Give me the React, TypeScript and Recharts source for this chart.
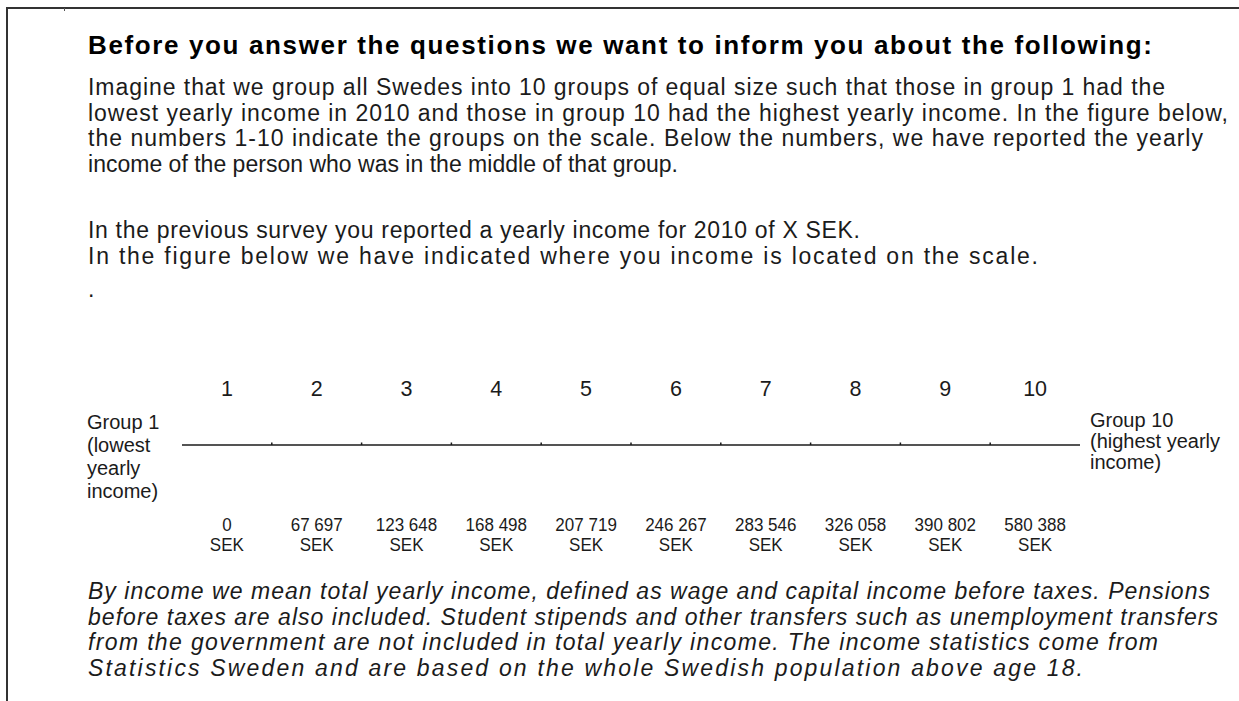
import { ComposedChart, XAxis, YAxis, ReferenceLine, Scatter } from 'recharts';

const groups = [1, 2, 3, 4, 5, 6, 7, 8, 9, 10];
const incomes = ['0', '67 697', '123 648', '168 498', '207 719', '246 267', '283 546', '326 058', '390 802', '580 388'];
const dividers = [1.5, 2.5, 3.5, 4.5, 5.5, 6.5, 7.5, 8.5, 9.5];

const titleText = 'Before you answer the questions we want to inform you about the following:';
const introLines = [
  'Imagine that we group all Swedes into 10 groups of equal size such that those in group 1 had the',
  'lowest yearly income in 2010 and those in group 10 had the highest yearly income. In the figure below,',
  'the numbers 1-10 indicate the groups on the scale. Below the numbers, we have reported the yearly',
  'income of the person who was in the middle of that group.',
];
const surveyLines = [
  'In the previous survey you reported a yearly income for 2010 of X SEK.',
  'In the figure below we have indicated where you income is located on the scale.',
];
const noteLines = [
  'By income we mean total yearly income, defined as wage and capital income before taxes. Pensions',
  'before taxes are also included. Student stipends and other transfers such as unemployment transfers',
  'from the government are not included in total yearly income. The income statistics come from',
  'Statistics Sweden and are based on the whole Swedish population above age 18.',
];
const lowLabel = ['Group 1', '(lowest', 'yearly', 'income)'];
const highLabel = ['Group 10', '(highest yearly', 'income)'];

// printed width of each text line on the page (px)
const introWidths = [1077, 1140, 1115, 590];
const surveyWidths = [772, 950];
const noteWidths = [1122, 1130, 1070, 995];

const FONT = "'Liberation Sans', Arial, sans-serif";
const INK = '#1b1b1b';

const data = groups.map((g, i) => ({ group: g, income: incomes[i] }));
const dividerData = dividers.map((d) => ({ group: d, level: 1 }));

function GroupTick(props: any) {
  const { x, y, payload } = props;
  return (
    <text x={x} y={y + 1} textAnchor="middle" fontSize={21.5} fontFamily={FONT} fill={INK}>
      {payload.value}
    </text>
  );
}

function IncomeTick(props: any) {
  const { x, y, payload } = props;
  const label = incomes[groups.indexOf(payload.value)];
  return (
    <g transform={`translate(${x},${y}) scale(0.92,1)`} fontSize={18.5} fontFamily={FONT} fill={INK} textAnchor="middle">
      <text x={0} y={36}>{label}</text>
      <text x={0} y={56}>SEK</text>
    </g>
  );
}

function DividerMark(props: any) {
  const { cx, cy } = props;
  return <line x1={cx} x2={cx} y1={cy - 2.5} y2={cy} stroke={INK} strokeWidth={1.5} />;
}

function TextBlock({ lines, widths, baseline, step = 25.5, italic }: any) {
  return (
    <g fontStyle={italic ? 'italic' : 'normal'}>
      {lines.map((t: string, i: number) => (
        <text key={i} x={88} y={baseline + i * step} textLength={widths[i]} lengthAdjust="spacing">
          {t}
        </text>
      ))}
    </g>
  );
}

export default function App() {
  return (
    <div
      style={{
        position: 'fixed',
        left: 0,
        top: 0,
        width: 1239,
        height: 701,
        background: '#fff',
        overflow: 'hidden',
      }}
    >
      <svg width={1239} height={701} style={{ position: 'absolute', left: 0, top: 0 }} fontFamily={FONT} fontSize={23} fill={INK}>
        {/* page frame */}
        <rect x={6} y={7} width={1233} height={2} fill="#333" />
        <rect x={6} y={7} width={2} height={694} fill="#333" />
        <rect x={64} y={8} width={1} height={3} fill="#555" />

        <text x={88} y={54} fontWeight="bold" fontSize={26} fill="#000" textLength={1064} lengthAdjust="spacing">
          {titleText}
        </text>
        <TextBlock lines={introLines} widths={introWidths} baseline={95} />
        <TextBlock lines={surveyLines} widths={surveyWidths} baseline={238} />
        <text x={88} y={297}>.</text>
        <TextBlock lines={noteLines} widths={noteWidths} baseline={599} italic />

        <g fontSize={20}>
          {lowLabel.map((t, i) => (
            <text key={i} x={87} y={429 + i * 23}>{t}</text>
          ))}
          {highLabel.map((t, i) => (
            <text key={i} x={1090} y={427 + i * 21}>{t}</text>
          ))}
        </g>
      </svg>

      <div style={{ position: 'absolute', left: 0, top: 360 }}>
        <ComposedChart
          width={1239}
          height={200}
          data={data}
          margin={{ top: 0, right: 159, bottom: 0, left: 182 }}
        >
          <XAxis
            xAxisId="grp"
            orientation="top"
            type="number"
            dataKey="group"
            domain={[0.5, 10.5]}
            ticks={groups}
            height={43}
            axisLine={false}
            tickLine={false}
            tick={<GroupTick />}
            interval={0}
          />
          <XAxis
            xAxisId="inc"
            orientation="bottom"
            type="number"
            dataKey="group"
            domain={[0.5, 10.5]}
            ticks={groups}
            height={73}
            axisLine={false}
            tickLine={false}
            tick={<IncomeTick />}
            interval={0}
          />
          <YAxis yAxisId="y" type="number" dataKey="level" domain={[0, 2]} allowDataOverflow hide />
          <ReferenceLine xAxisId="grp" yAxisId="y" y={1} stroke={INK} strokeWidth={1.6} ifOverflow="visible" />
          <Scatter
            xAxisId="grp"
            yAxisId="y"
            data={dividerData}
            dataKey="level"
            shape={<DividerMark />}
            isAnimationActive={false}
          />
        </ComposedChart>
      </div>
    </div>
  );
}
